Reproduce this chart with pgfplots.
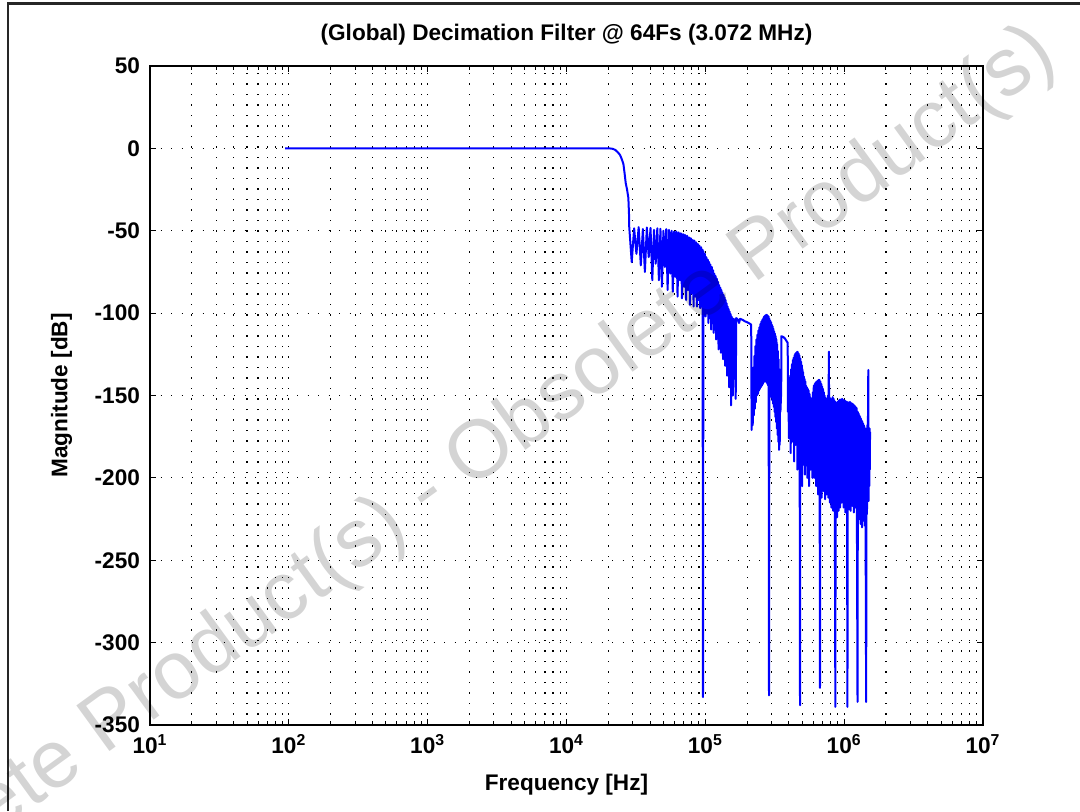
\documentclass[border=0pt]{standalone}
\usepackage{fontspec}
\setmainfont{Liberation Sans}
\usepackage{pgfplots}
\pgfplotsset{compat=1.18}
\newcommand\lbl{\fontsize{11.3}{13}\selectfont\bfseries}
\begin{document}
\begin{tikzpicture}
\path[use as bounding box] (0,0) rectangle (540pt,405.5pt);
\draw[line width=1.2pt, black!85] (4pt,0) -- (4pt,403.8pt) -- (540pt,403.8pt);
\begin{axis}[
  at={(75pt,43pt)}, anchor=south west,
  scale only axis, width=416.5pt, height=329.5pt,
  xmode=log, log basis x=10,
  xmin=10, xmax=1e7, ymin=-350, ymax=50,
  xtick={10,100,1000,10000,100000,1000000,10000000},
  xticklabels={10\textsuperscript{1},10\textsuperscript{2},10\textsuperscript{3},10\textsuperscript{4},10\textsuperscript{5},10\textsuperscript{6},10\textsuperscript{7}},
  minor xtick={20,30,40,50,60,70,80,90,
    200,300,400,500,600,700,800,900,
    2000,3000,4000,5000,6000,7000,8000,9000,
    20000,30000,40000,50000,60000,70000,80000,90000,
    200000,300000,400000,500000,600000,700000,800000,900000,
    2000000,3000000,4000000,5000000,6000000,7000000,8000000,9000000},
  ytick={-350,-300,-250,-200,-150,-100,-50,0,50},
  yticklabels={-350,-300,-250,-200,-150,-100,-50,0,50},
  xtick pos=both, ytick pos=both, tick align=inside,
  major tick length=3pt, minor tick length=1.8pt,
  every tick/.style={black, line width=0.5pt},
  axis line style={line width=0.6pt},
  xmajorgrids, xminorgrids, ymajorgrids,
  grid style={black, line width=0.55pt, dash pattern=on 0.55pt off 4.7pt},
  minor grid style={black, line width=0.55pt, dash pattern=on 0.55pt off 4.7pt},
  tick label style={font=\lbl},
  yticklabel style={xshift=-1.5pt},
  xticklabel style={yshift=-1.2pt},
  title={(Global) Decimation Filter @ 64Fs (3.072 MHz)},
  title style={font=\lbl, at={(axis description cs:0.5,1.03)}, anchor=center},
  xlabel={Frequency [Hz]},
  xlabel style={font=\lbl, at={(axis description cs:0.5,-0.09)}, anchor=center},
  ylabel={Magnitude [dB]},
  ylabel style={font=\lbl, at={(axis description cs:-0.106,0.5)}, anchor=center},
]
% passband and transition
\addplot[blue, line width=1pt, line join=round] coordinates {
(94,0) (1000,0) (10000,0) (20000,0) (21000,-0.1) (21600,-0.3) (22500,-1) (23500,-2.5) (24300,-4) (25000,-6.5) (25700,-9.5) (26200,-15) (26700,-21) (27300,-25) (27900,-30) (28200,-40) (28300,-47.5)
% first stopband
(29500,-69) (30700,-48.5) (31900,-64) (33100,-47.8) (34300,-71) (35500,-49) (36700,-75) (37900,-48) (39100,-66) (40300,-48.3) (41500,-80) (42700,-49.5) (43900,-70) (45100,-48.5) (46300,-80) (47500,-48.8) (48700,-84) (49900,-50) (51100,-72) (52300,-49) (53500,-86) (54700,-49.5) (55900,-76) (57100,-50) (58300,-87) (59500,-50.5) (60700,-78) (61900,-50.5) (63100,-90) (64300,-51) (65500,-80) (66700,-51.5) (67900,-91) (69100,-52) (70300,-84) (71500,-52.5) (72700,-92) (73900,-53) (75100,-86) (76300,-54) (77500,-95) (78700,-54.5) (79900,-88) (81100,-55.5) (82300,-96) (83500,-56) (84700,-90) (85900,-57) (87100,-96) (88300,-58) (89500,-92) (90700,-59) (91900,-97) (93100,-60) (94300,-95) (95500,-61.5) (96200,-333) (96900,-62.5) (98100,-98) (99300,-64) (100500,-102) (101700,-66) (102900,-100) (104100,-67.5) (105300,-106) (106500,-69) (107700,-103) (108900,-70.5) (110100,-110) (111300,-72) (112500,-106) (113700,-74) (114900,-112) (116100,-76) (117300,-110) (118500,-77.5) (119700,-116) (120900,-79) (122100,-114) (123300,-81) (124500,-122) (125700,-83) (126900,-118) (128100,-84.5) (129300,-124) (130500,-86) (131700,-122) (132900,-87.5) (134100,-128) (135300,-89) (136500,-126) (137700,-90.5) (138900,-132) (140100,-92) (141300,-130) (142500,-94) (143700,-138) (144900,-96) (146100,-135) (147300,-97.5) (148500,-145) (149700,-99) (150900,-140) (152100,-100.5) (153300,-156) (154500,-102) (155700,-145) (156900,-103) (158100,-150) (159300,-103.5) (160500,-140) (161700,-104) (162900,-133) (164000,-103.5)
% shelf
(165500,-152) (167000,-103) (172000,-104) (175000,-106) (178000,-103.5) (185000,-104) (193000,-105) (200000,-105.5) (210000,-106.5) (214000,-107) (215500,-171)
% lobe around 288 kHz
(217500,-142) (219500,-168) (221500,-133) (223500,-162) (225500,-126) (227500,-158) (229500,-120) (231500,-154) (233500,-116) (235500,-150) (237500,-113) (239500,-149) (241500,-110.5) (243500,-147) (245500,-108.5) (247500,-146) (249500,-106.5) (251500,-145) (253500,-105) (255500,-144) (257500,-104) (259500,-143) (261500,-103) (263500,-142) (265500,-102) (267500,-141) (269500,-101.5) (271500,-141.5) (273500,-101) (275500,-142) (277500,-101) (279500,-143) (281500,-101.5) (283500,-144) (285500,-102) (287500,-332) (289500,-103.5) (291500,-147) (293500,-104.5) (295500,-149) (297500,-105.5) (299500,-151) (301500,-107) (303500,-153) (305500,-108) (307500,-155) (309500,-109.5) (311500,-157) (313500,-111) (315500,-160) (317500,-112.5) (319500,-163) (321500,-114) (323500,-166) (325500,-116) (327500,-170) (329500,-119) (331500,-174) (333500,-123) (335500,-178) (337500,-128) (339500,-183) (341500,-134) (343500,-180) (345500,-139) (347500,-160)
% hook
(351000,-150) (352500,-140) (353000,-114) (365000,-114.5) (375000,-115.5) (385000,-117) (392000,-118) (394000,-160)
% lobe around 480 kHz
(397000,-148) (400000,-176) (403000,-143) (406000,-172) (409000,-138) (412000,-185) (415000,-134) (418000,-173) (421000,-131) (424000,-178) (427000,-128.5) (430000,-172) (433000,-127) (436000,-190) (439000,-125.5) (442000,-174) (445000,-124.5) (448000,-180) (451000,-124) (454000,-173) (457000,-123.5) (460000,-195) (463000,-123.5) (466000,-175) (469000,-124.5) (472000,-182) (475000,-125.5) (478000,-176) (480800,-338) (483000,-127.5) (486000,-188) (489000,-129.5) (492000,-178) (495000,-131.5) (498000,-205) (501000,-134) (504000,-180) (507000,-136) (510000,-192) (513000,-138.5) (516000,-182) (519000,-140) (522000,-198) (525000,-141.5) (528000,-185) (531000,-144)
(535000,-176) (539000,-145) (543000,-200) (547000,-146) (551000,-178) (555000,-147) (559000,-205) (563000,-149) (567000,-180) (571000,-151) (575000,-195) (579000,-152) (583000,-185) (587000,-152.5) (591000,-200) (595000,-148) (599000,-190)
% lobe around 672 kHz
(604000,-144) (609000,-200) (614000,-143) (619000,-195) (624000,-142) (629000,-205) (634000,-141.5) (639000,-196) (644000,-141) (649000,-210) (654000,-140.5) (659000,-198) (664000,-140.5) (669800,-327.5) (674000,-141.5) (679000,-202) (684000,-143) (689000,-212) (694000,-144.5) (699000,-200) (704000,-146) (709000,-208) (714000,-148) (719000,-197) (724000,-150) (729000,-213) (734000,-151.5) (739000,-202) (744000,-153) (749000,-210) (754000,-152) (759000,-200) (764000,-150) (769000,-212) (774000,-140) (777000,-123.4) (780000,-205) (785000,-151) (790000,-215) (795000,-152) (800000,-206) (805000,-153) (810000,-218) (815000,-152)
% up to 1 MHz
(821000,-210) (827000,-151) (833000,-220) (839000,-152) (845000,-208) (851000,-153) (857000,-222) (864000,-339) (870000,-154) (876000,-212) (882000,-154.5) (888000,-224) (894000,-154) (900000,-210) (906000,-153.5) (912000,-220) (918000,-153) (924000,-206) (930000,-152.5) (936000,-218) (942000,-152.5) (948000,-212) (954000,-152.5)
(960000,-215) (967500,-152) (975000,-205) (982500,-152.5) (990000,-218) (997500,-153) (1005000,-208) (1012500,-153) (1020000,-221) (1027500,-153.5) (1035000,-210) (1042500,-154) (1049000,-215) (1056000,-339) (1063000,-154) (1070000,-212) (1077500,-154.5) (1085000,-219) (1092500,-154) (1100000,-206) (1107500,-154) (1115000,-220) (1122500,-154.5) (1130000,-210) (1137500,-155) (1145000,-217) (1152500,-155) (1160000,-205) (1167500,-155.5) (1175000,-221) (1182500,-156) (1190000,-212) (1197500,-156.5) (1205000,-218) (1212500,-157) (1220000,-208) (1227500,-157.5) (1235000,-220) (1248000,-336) (1257000,-160)
% up to Fs/2
(1265000,-215) (1273000,-161) (1281000,-225) (1289000,-162) (1297000,-213) (1305000,-163) (1313000,-228) (1321000,-164) (1329000,-218) (1337000,-165) (1345000,-230) (1353000,-166) (1361000,-216) (1369000,-167) (1377000,-226) (1385000,-168) (1393000,-220) (1401000,-169) (1409000,-229) (1417000,-170) (1425000,-215) (1440000,-336) (1452000,-170) (1460000,-222) (1468000,-168) (1476000,-210) (1484000,-166) (1492000,-134.5) (1500000,-214) (1508000,-172) (1516000,-205) (1524000,-170) (1531000,-195) (1536000,-172)
};
\end{axis}
\node[rotate=36, text=black, text opacity=0.17, font=\fontsize{41}{49}\selectfont] at (214pt,158pt) {Obsolete Product(s) - Obsolete Product(s)};
\end{tikzpicture}
\end{document}
